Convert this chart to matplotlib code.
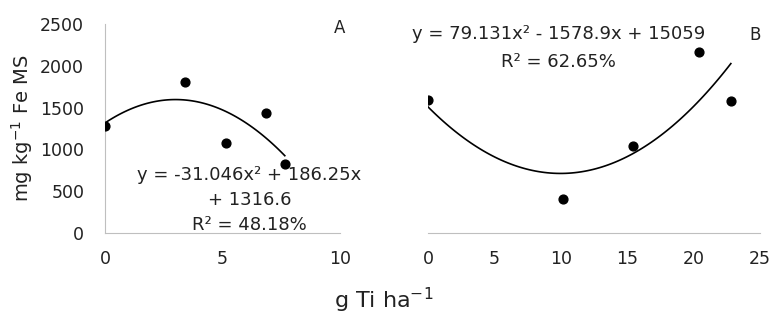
import numpy as np
import matplotlib.pyplot as plt

plt.rcParams['font.family'] = ['DejaVu Sans']

# panel A
xa = [0, 3.4, 5.15, 6.85, 7.65]
ya = [1280, 1810, 1080, 1435, 825]
coef_a = [-31.046, 186.25, 1316.6]

# panel B
xb = [0, 10.2, 15.4, 20.4, 22.8]
yb = [1585, 410, 1035, 2170, 1575]

grey = '#bfbfbf'
txt = '#222222'
fig = plt.figure(figsize=(7.74, 3.2), dpi=100)
ax1 = fig.add_axes([0.1357, 0.272, 0.3036, 0.653])
ax2 = fig.add_axes([0.553, 0.272, 0.429, 0.653])

for ax in (ax1, ax2):
    ax.set_ylim(0, 2500)
    ax.tick_params(length=0, labelsize=12.5, colors=txt, pad=12)
    for s in ['top', 'right']:
        ax.spines[s].set_visible(False)
    ax.spines['bottom'].set_color(grey)
    ax.spines['left'].set_color(grey)

ax1.set_xlim(0, 10)
ax1.set_xticks([0, 5, 10])
ax1.set_yticks(range(0, 2501, 500))
ax1.tick_params(axis='y', pad=15)

xs = np.linspace(0, max(xa), 100)
ax1.plot(xs, np.polyval(coef_a, xs), color='black', lw=1.2)
ax1.scatter(xa, ya, s=40, color='black', zorder=3)
ax1.text(6.15, 800, 'y = -31.046x² + 186.25x\n+ 1316.6\nR² = 48.18%',
         ha='center', va='top', fontsize=13, linespacing=1.5, color=txt)
ax1.text(10, 2450, 'A', ha='center', va='center', fontsize=12, color=txt)
ax1.set_ylabel('mg kg$^{-1}$ Fe MS', fontsize=14, labelpad=4, color=txt)

ax2.set_xlim(0, 25)
ax2.set_xticks(range(0, 26, 5))
ax2.spines['left'].set_visible(False)
ax2.set_yticks([])
coef_b = np.polyfit(xb, yb, 2)
xs = np.linspace(0, max(xb), 100)
ax2.plot(xs, np.polyval(coef_b, xs), color='black', lw=1.2)
ax2.scatter(xb, yb, s=40, color='black', zorder=3)
ax2.text(9.8, 2215, 'y = 79.131x² - 1578.9x + 15059\nR² = 62.65%',
         ha='center', va='center', fontsize=13, linespacing=1.7, color=txt)
ax2.text(24.6, 2370, 'B', ha='center', va='center', fontsize=12, color=txt)

fig.text(0.496, 0.06, 'g Ti ha$^{-1}$', ha='center', va='center', fontsize=16,
         color=txt)

fig.savefig('out.png', dpi=100)
